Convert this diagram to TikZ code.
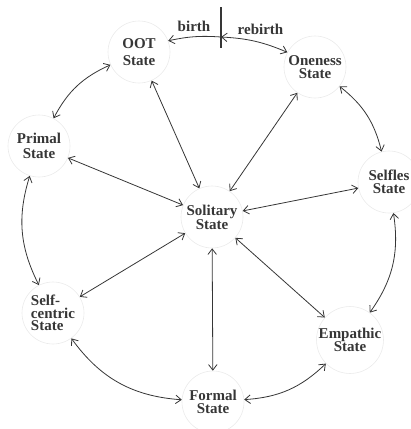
\documentclass[tikz,border=0pt]{standalone}
\usepackage{fontspec}
\setmainfont{Liberation Serif}
\usetikzlibrary{arrows.meta}
\definecolor{ink}{HTML}{363636}
\definecolor{ring}{HTML}{EAEAEA}
\newcommand{\statefont}[1]{\fontsize{15}{#1}\selectfont\bfseries}
\begin{document}
\begin{tikzpicture}[x=1pt,y=1pt,
  state/.style={circle, draw=ring, line width=0.6pt, minimum size=62pt,
    inner sep=0pt, align=center, text=ink, font=\statefont{13.5}},
  lbl/.style={text=ink, inner sep=0pt, font=\statefont{15}},
  tip/.tip={Straight Barb[length=5.5pt,width=8.5pt]},
  link/.style={draw=ink, line width=0.8pt, tip-tip},
  onelink/.style={draw=ink, line width=0.8pt, -tip},
]
\useasboundingbox (0,0) rectangle (411,-429);

% states around the ring
\node[state, font=\statefont{17.5}] (oot)      at (139,-52)  {OOT\\State};
\node[state, font=\statefont{13.5}] (oneness)  at (315,-67)  {Oneness\\State};
\node[state, font=\statefont{14.3}] (primal)   at (39,-146)  {Primal\\State};
\node[state, font=\statefont{13.5}] (selfless) at (389,-182) {Selfles\\State};
\node[state, font=\statefont{13}]   (solitary) at (212,-217) {Solitary\\State};
\node[state, align=left, font=\statefont{12.5}]
                                    (selfc)    at (53,-313)  {Self-\\centric\\State};
\node[state, font=\statefont{13.5}] (empathic) at (350,-340) {Empathic\\State};
\node[state, font=\statefont{13.5}] (formal)   at (213,-402) {Formal\\State};

% birth / rebirth marker
\coordinate (mtop) at (221,-7);
\coordinate (mbot) at (221,-48);
\coordinate (j)    at (221,-37);
\draw[ink, line width=1.2pt] (mtop) -- (mbot);
\node[lbl] (birth)   at (194,-26)   {birth};
\node[lbl] (rebirth) at (260.5,-29) {rebirth};
\draw[onelink] (j) to[bend right=8] (oot.21);
\draw[link] (j) to[bend left=10] (oneness.152);

% ring connections
\draw[link] (oot)      to[bend right=19] (primal);
\draw[link] (primal)   to[bend right=22] (selfc);
\draw[link] (selfc)    to[bend right=25] (formal);
\draw[link] (formal)   to[bend right=20] (empathic);
\draw[link] (empathic) to[bend right=22] (selfless);
\draw[link] (selfless) to[bend right=19] (oneness);

% spokes from the centre
\foreach \s in {oot,oneness,primal,selfless,selfc,empathic,formal}
  \draw[link] (solitary) -- (\s);
\end{tikzpicture}
\end{document}
